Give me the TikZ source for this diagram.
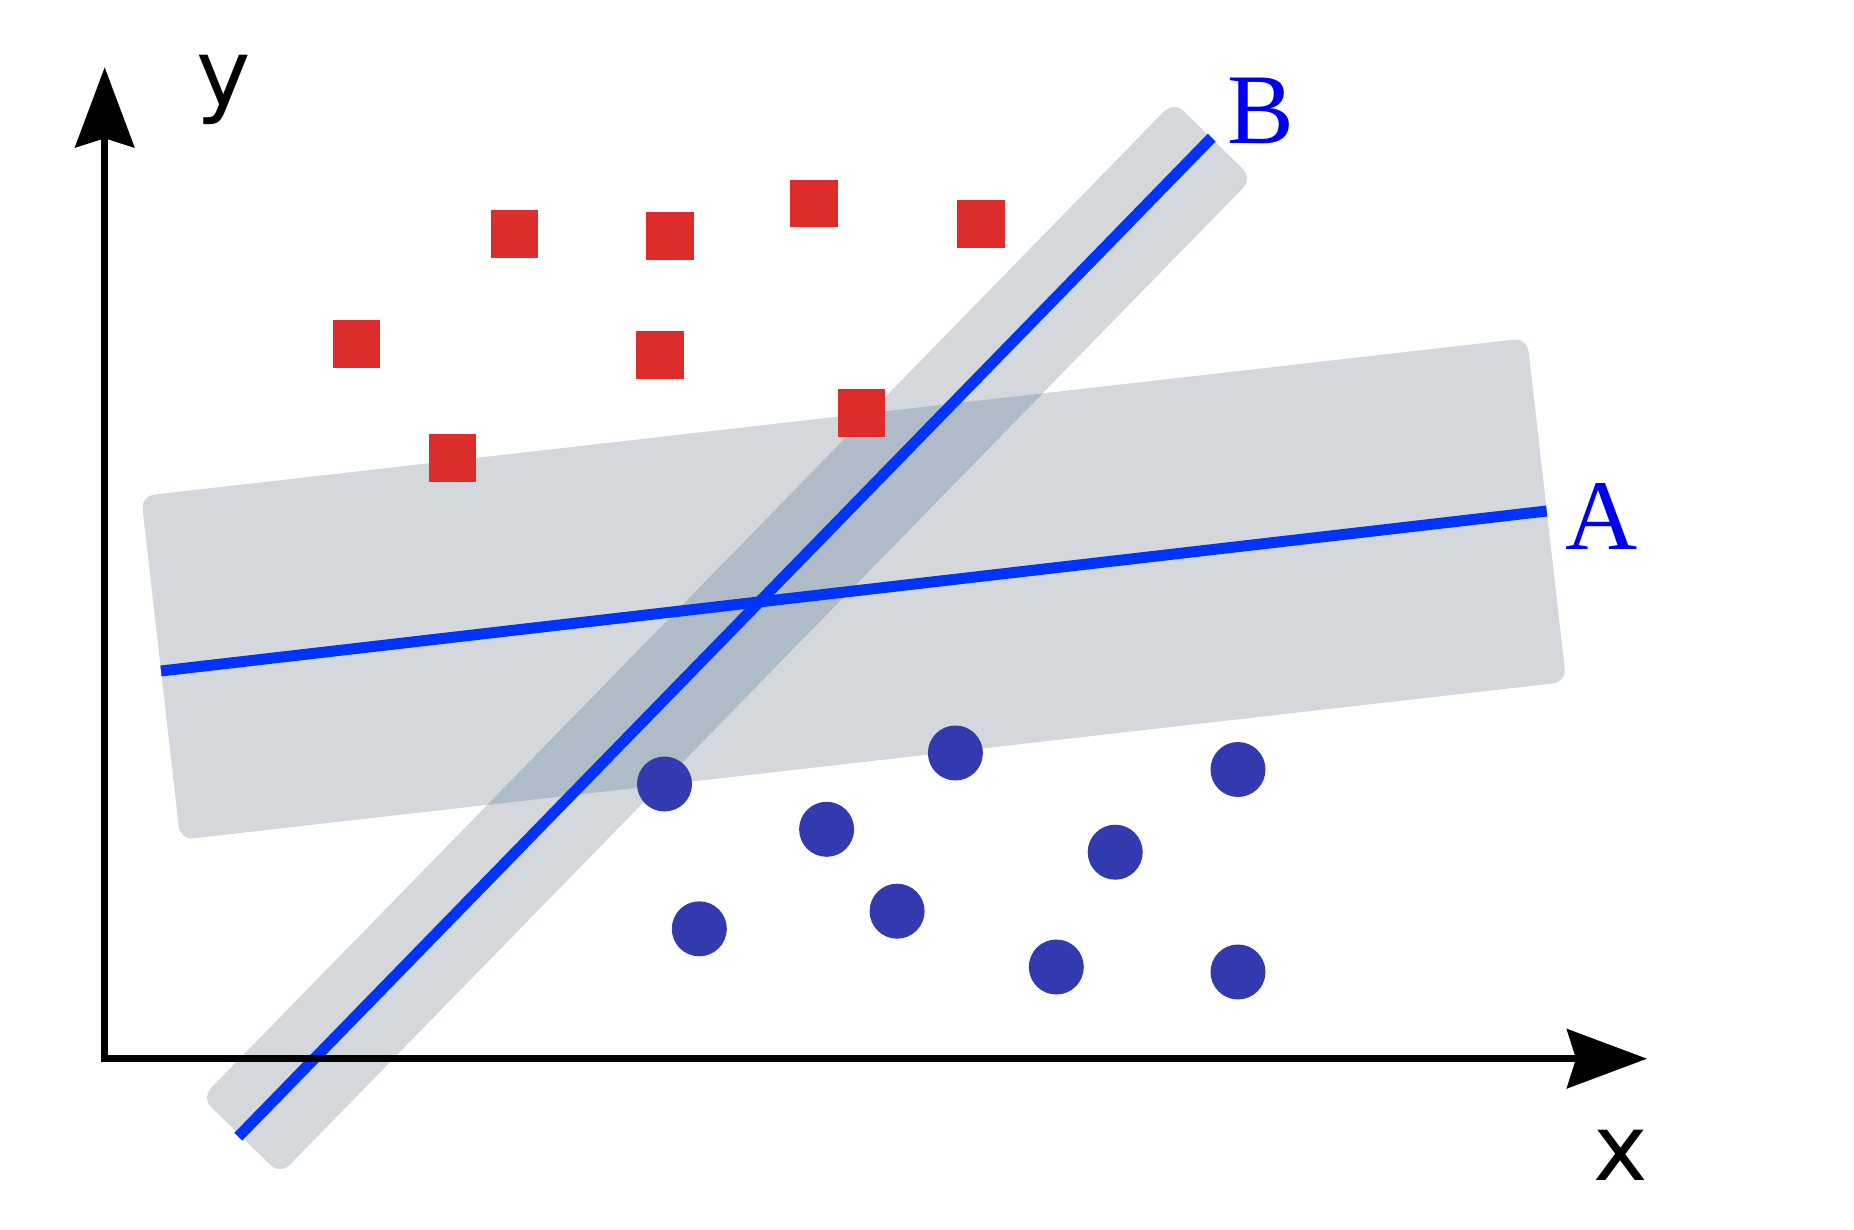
\documentclass[tikz,border=0pt]{standalone}
\usepackage{fontspec}
\setmainfont{Liberation Serif}
\newfontfamily\axisfont{DejaVu Sans}
\usepackage{tikz}
\usetikzlibrary{arrows.meta, positioning}
\definecolor{bandgray}{HTML}{D4D7DC}
\definecolor{overlapgray}{HTML}{AFBBC7}
\definecolor{lineblue}{HTML}{0033FF}
\definecolor{labelblue}{HTML}{0000F0}
\definecolor{sqred}{HTML}{DD2C2C}
\definecolor{dotblue}{HTML}{3339AF}

\begin{document}
\begin{tikzpicture}[
    x=1pt, y=-1pt,
    band/.style={fill=bandgray, rounded corners=13pt},
    overlap/.style={fill=overlapgray, rounded corners=13pt},
    sepline/.style={draw=lineblue, line width=11pt},
    axis/.style={line width=6.5pt, {Stealth[length=80pt, width=59pt, inset=9pt]}-{Stealth[length=80pt, width=59pt, inset=9pt]}},
    redsq/.style={rectangle, fill=sqred, minimum size=47.5pt, inner sep=0pt},
    bluedot/.style={circle, fill=dotblue, minimum size=55pt, inner sep=0pt},
    linelabel/.style={text=labelblue, font=\fontsize{100}{110}\selectfont, inner sep=0pt},
    axislabel/.style={font=\axisfont\fontsize{92}{100}\selectfont, inner sep=0pt}
]
\useasboundingbox (0,0) rectangle (1854,1230);

% Margins
\path[band, shift={(853.7,589)}, rotate=6.5] (-697.5,-173) rectangle (697.5,173);
\path[band, shift={(727,638)}, rotate=45.7] (-696,-55) rectangle (696,55);
\begin{scope}
  \clip[shift={(853.7,589)}, rotate=6.5, rounded corners=13pt] (-697.5,-173) rectangle (697.5,173);
  \path[overlap, shift={(727,638)}, rotate=45.7] (-696,-55) rectangle (696,55);
\end{scope}

% Separating lines
\coordinate (A0) at (161,671);
\coordinate (A1) at (1546.7,511);
\coordinate (B0) at (238.3,1136.7);
\coordinate (B1) at (1211.7,137.6);
\draw[sepline] (A0) -- (A1);
\draw[sepline] (B0) -- (B1);
\node[linelabel] (labA) at (1601.5,516.5) {A};
\node[linelabel] (labB) at (1261,111) {B};

% Class 1
\node[redsq] (sq1) at (514.3,233.8) {};
\node[redsq] (sq2) at (670.2,236) {};
\node[redsq] (sq3) at (814.2,203.3) {};
\node[redsq] (sq4) at (980.8,224.2) {};
\node[redsq] (sq5) at (356.5,344) {};
\node[redsq] (sq6) at (660.2,355) {};
\node[redsq] (sq7) at (861.3,413) {};
\node[redsq] (sq8) at (452.4,458.2) {};

% Class 2
\node[bluedot] (dot1) at (664.5,784) {};
\node[bluedot] (dot2) at (955.4,753) {};
\node[bluedot] (dot3) at (1238,769.5) {};
\node[bluedot] (dot4) at (826.6,829.3) {};
\node[bluedot] (dot5) at (1115.2,852.2) {};
\node[bluedot] (dot6) at (699.3,928.8) {};
\node[bluedot] (dot7) at (897.1,911.2) {};
\node[bluedot] (dot8) at (1056.3,967) {};
\node[bluedot] (dot9) at (1238,972) {};

% Axes
\coordinate (origin) at (104.7,1058.7);
\coordinate (ytop) at (104.7,67.3);
\coordinate (xend) at (1647,1058.7);
\draw[axis] (ytop) -- (origin) -- (xend);
\node[axislabel] (ylab) at (223.3,90.3) {y};
\node[axislabel] (xlab) at (1620.7,1155.7) {x};

\end{tikzpicture}
\end{document}
